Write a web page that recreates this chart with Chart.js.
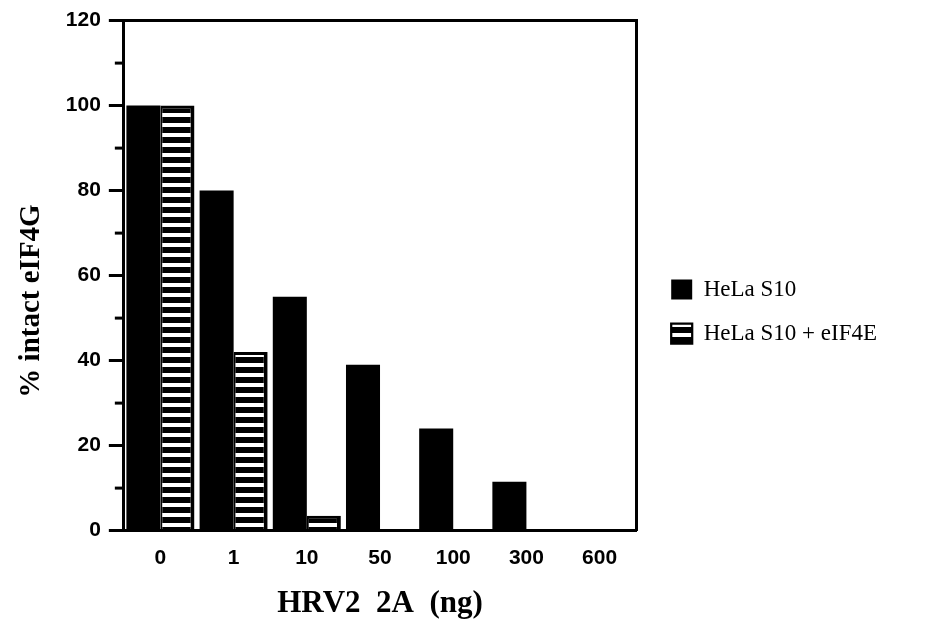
<!DOCTYPE html>
<html>
<head>
<meta charset="utf-8">
<script src="https://cdn.jsdelivr.net/npm/chart.js@4.4.1/dist/chart.umd.min.js"></script>
<style>
  html, body { margin: 0; padding: 0; background: #fff; }
  #wrap { width: 932px; height: 637px; }
</style>
</head>
<body>
<div id="wrap"><canvas id="chart" width="932" height="637"></canvas></div>
<script>
// data
const doses = ['0', '1', '10', '50', '100', '300', '600'];
const helaS10 = [100, 80, 55, 39, 24, 11.5, 0];
const helaS10eIF4E = [100, 42, 3.5, 0, 0, 0, 0];
const yTicks = [0, 20, 40, 60, 80, 100, 120];
const yMinorTicks = [10, 30, 50, 70, 90, 110];

const serif = '"Liberation Serif", "Times New Roman", serif';
const sans = '"Liberation Sans", Arial, sans-serif';

// horizontal stripes: black with white bands
function stripePattern() {
    const c = document.createElement('canvas');
    c.width = 8;
    c.height = 10;
    const g = c.getContext('2d');
    g.fillStyle = '#000';
    g.fillRect(0, 0, 8, 10);
    g.fillStyle = '#fff';
    g.fillRect(0, 3, 8, 4);
    return g.createPattern(c, 'repeat');
}

// short minor ticks on the y axis
const minorTicks = {
    id: 'minorTicks',
    afterDraw(chart) {
        const y = chart.scales.y;
        const ctx = chart.ctx;
        ctx.save();
        ctx.strokeStyle = '#000';
        ctx.lineWidth = 3;
        yMinorTicks.forEach(v => {
            const py = y.getPixelForValue(v);
            ctx.beginPath();
            ctx.moveTo(y.right - 9, py);
            ctx.lineTo(y.right, py);
            ctx.stroke();
        });
        ctx.restore();
    }
};

const data = {
    labels: doses,
    datasets: [{
        label: 'HeLa S10',
        data: helaS10,
        backgroundColor: '#000',
        borderColor: '#000',
        borderWidth: 0
    }, {
        label: 'HeLa S10 + eIF4E',
        data: helaS10eIF4E,
        backgroundColor: stripePattern(),
        borderColor: '#000',
        borderWidth: { top: 3, left: 2, right: 4, bottom: 0 }
    }]
};

const config = {
    type: 'bar',
    data: data,
    plugins: [minorTicks],
    options: {
        responsive: false,
        animation: false,
        layout: { padding: { top: 0, left: 14, right: 45, bottom: 14 } },
        datasets: {
            bar: { categoryPercentage: 0.93, barPercentage: 1.0 }
        },
        plugins: {
            tooltip: { enabled: false },
            legend: {
                position: 'right',
                maxWidth: 320,
                labels: {
                    color: '#000',
                    boxWidth: 21,
                    boxHeight: 20,
                    padding: 21,
                    font: { family: serif, size: 23 }
                }
            }
        },
        scales: {
            x: {
                grid: { display: false, drawTicks: false },
                border: { display: true, color: '#000', width: 3 },
                ticks: {
                    color: '#000',
                    padding: 15,
                    font: { family: sans, size: 21, weight: 'bold' }
                },
                title: {
                    display: true,
                    text: 'HRV2  2A  (ng)',
                    color: '#000',
                    padding: { top: 0, bottom: 0 },
                    font: { family: serif, size: 31, weight: 'bold' }
                }
            },
            y: {
                min: 0,
                max: 120,
                afterBuildTicks: (scale) => { scale.ticks = yTicks.map(v => ({ value: v })); },
                grid: {
                    drawOnChartArea: false,
                    drawTicks: true,
                    tickLength: 15,
                    lineWidth: 3,
                    color: '#000'
                },
                border: { display: true, color: '#000', width: 3 },
                ticks: {
                    color: '#000',
                    padding: 8,
                    font: { family: sans, size: 21, weight: 'bold' }
                },
                title: {
                    display: true,
                    text: '% intact eIF4G       ',
                    color: '#000',
                    padding: { top: 0, bottom: 9 },
                    font: { family: serif, size: 29, weight: 'bold' }
                }
            },
            xTop: {
                position: 'top',
                grid: { drawOnChartArea: false, drawTicks: false },
                border: { display: true, color: '#000', width: 3 },
                ticks: { display: false }
            },
            yRight: {
                position: 'right',
                min: 0,
                max: 120,
                grid: { drawOnChartArea: false, drawTicks: false },
                border: { display: true, color: '#000', width: 3 },
                ticks: { display: false },
                afterFit: (scale) => { scale.width = 14; }
            }
        }
    }
};

const chart = new Chart(document.getElementById('chart'), config);
</script>
</body>
</html>
